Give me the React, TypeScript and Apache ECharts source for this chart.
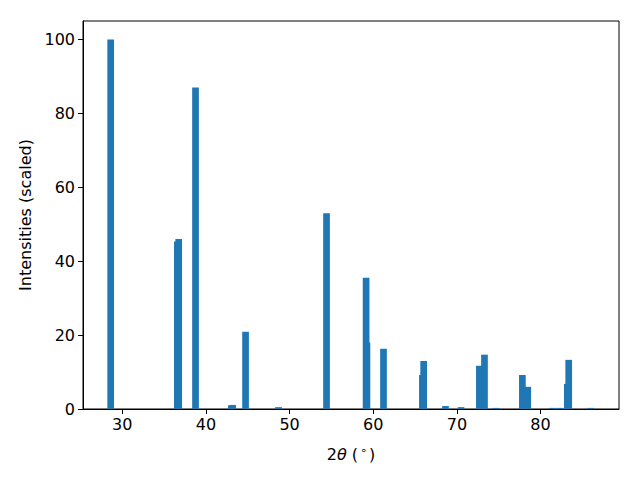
import React, { useEffect, useRef } from "react";
import * as echarts from "echarts";

const twoTheta = [28.62, 36.59, 36.75, 38.76, 43.05, 43.2, 44.74, 48.68, 54.42, 59.15, 59.25, 61.23, 65.88, 66.03, 68.64, 70.5, 72.69, 73.3, 74.68, 77.83, 78.47, 81.42, 82.29, 83.2, 83.37, 86.0];
const intensities = [100, 45.3, 46.0, 87.0, 1.0, 1.1, 20.9, 0.5, 53.0, 35.5, 18.0, 16.3, 9.2, 13.0, 0.8, 0.5, 11.7, 14.7, 0.3, 9.2, 6.0, 0.3, 0.3, 6.8, 13.3, 0.3];
const xTicks = [30, 40, 50, 60, 70, 80];
const yTicks = [0, 20, 40, 60, 80, 100];
const BAR_WIDTH = 0.8;

const FONT = "DejaVu Sans";

export default function App() {
  const ref = useRef<HTMLDivElement>(null);
  useEffect(() => {
    if (!ref.current) return;
    const chart = echarts.init(ref.current, undefined, { renderer: "svg" });
    const data = twoTheta.map((x, i) => [x, intensities[i]]);
    chart.setOption({
      animation: false,
      backgroundColor: "#fff",
      grid: {
        left: 83,
        top: 21,
        right: 21,
        bottom: 71,
        show: true,
        borderColor: "#000",
        borderWidth: 1,
        backgroundColor: "transparent",
      },
      xAxis: {
        type: "value",
        min: 25.31,
        max: 89.38,
        name: "{a|2}{i|θ}{a| (}{s|∘}{a|)}",
        nameLocation: "middle",
        nameGap: 36,
        nameTextStyle: {
          rich: {
            a: { fontFamily: FONT, fontSize: 16, color: "#000" },
            i: { fontFamily: FONT, fontSize: 16, fontStyle: "italic", color: "#000" },
            s: { fontFamily: FONT, fontSize: 11, color: "#000", padding: [0, 2, 7, 2] },
          },
        },
        splitLine: { show: false },
        axisLine: { show: true, onZero: false, lineStyle: { color: "#000", width: 1 } },
        axisTick: { show: true, length: 5, customValues: xTicks, lineStyle: { color: "#000" } },
        axisLabel: {
          customValues: xTicks,
          margin: 7,
          fontFamily: FONT,
          fontSize: 16,
          color: "#000",
        },
      },
      yAxis: {
        type: "value",
        min: 0,
        max: 105,
        name: "Intensities (scaled)",
        nameLocation: "middle",
        nameGap: 50,
        nameTextStyle: { fontFamily: FONT, fontSize: 16, color: "#000" },
        splitLine: { show: false },
        axisLine: { show: true, lineStyle: { color: "#000", width: 1 } },
        axisTick: { show: true, length: 5, customValues: yTicks, lineStyle: { color: "#000" } },
        axisLabel: {
          customValues: yTicks,
          margin: 8,
          fontFamily: FONT,
          fontSize: 16,
          color: "#000",
        },
      },
      series: [
        {
          type: "custom",
          data,
          encode: { x: 0, y: 1 },
          renderItem: (params: any, api: any) => {
            const x = api.value(0);
            const y = api.value(1);
            const p0 = api.coord([x - BAR_WIDTH / 2, y]);
            const p1 = api.coord([x + BAR_WIDTH / 2, 0]);
            return {
              type: "rect",
              shape: { x: p0[0], y: p0[1], width: p1[0] - p0[0], height: p1[1] - p0[1] },
              style: { fill: "#1f77b4" },
            };
          },
        },
      ],
    });
    return () => chart.dispose();
  }, []);
  return (
    <div
      ref={ref}
      style={{ position: "fixed", left: 0, top: 0, width: 640, height: 480 }}
    />
  );
}
